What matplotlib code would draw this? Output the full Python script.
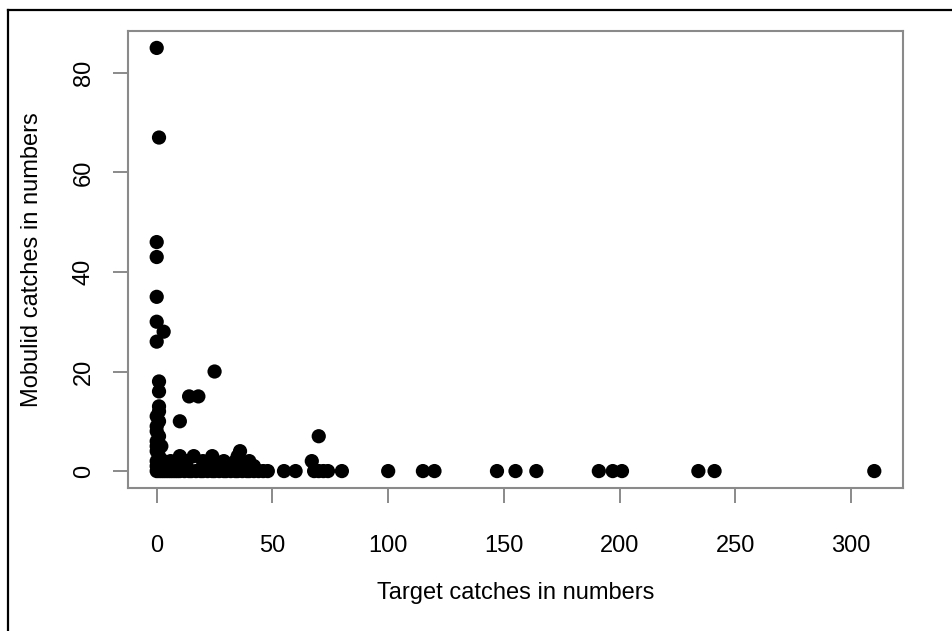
import matplotlib
matplotlib.use("Agg")
import matplotlib.pyplot as plt
from matplotlib.lines import Line2D

# Mobulid catches vs target catches
target_catches = [
    0, 1, 2, 3, 4, 5, 6, 7, 8, 9, 10, 12, 14, 15, 17, 19, 20, 22, 24, 25,
    27, 29, 30, 32, 34, 35, 37, 39, 40, 42, 44, 46, 48, 55, 60, 68, 70, 72,
    74, 80, 100, 115, 120, 147, 155, 164, 191, 197, 201, 234, 241, 310,
    0, 2, 5, 8, 12, 20, 25, 30, 38, 42,
    0, 3, 6, 13, 20, 25, 29, 34, 40, 67,
    1, 10, 16, 24, 35, 36, 0, 0, 2, 0, 1, 0, 0, 1, 0, 1, 1, 1, 1,
    10, 14, 18, 25, 0, 3, 0, 0, 0, 0, 1, 0, 70,
]
mobulid_catches = [
    0, 0, 0, 0, 0, 0, 0, 0, 0, 0, 0, 0, 0, 0, 0, 0, 0, 0, 0, 0,
    0, 0, 0, 0, 0, 0, 0, 0, 0, 0, 0, 0, 0, 0, 0, 0, 0, 0,
    0, 0, 0, 0, 0, 0, 0, 0, 0, 0, 0, 0, 0, 0,
    1, 1, 1, 1, 1, 1, 1, 1, 1, 1,
    2, 2, 2, 2, 2, 2, 2, 2, 2, 2,
    3, 3, 3, 3, 3, 4, 4, 5, 5, 6, 7, 8, 9, 10, 11, 12, 13, 16, 18,
    10, 15, 15, 20, 26, 28, 30, 35, 43, 46, 67, 85, 7,
]
x_ticks = [0, 50, 100, 150, 200, 250, 300]
y_ticks = [0, 20, 40, 60, 80]

plt.rcParams["font.family"] = ["Liberation Sans", "DejaVu Sans"]

fig = plt.figure(figsize=(9.52, 6.31), dpi=100)
ax = fig.add_axes([128 / 952, 143 / 631, 775 / 952, 457 / 631])

ax.scatter(target_catches, mobulid_catches, s=105, color="black",
           edgecolors="none", zorder=3)

# R-style 4% padding around the data range
ax.set_xlim(-12.4, 322.4)
ax.set_ylim(-3.4, 88.4)
ax.set_xticks(x_ticks)
ax.set_yticks(y_ticks)

for side in ax.spines.values():
    side.set_color("#8a8a8a")
    side.set_linewidth(1.5)

ax.tick_params(axis="both", direction="out", length=11, width=1.2,
               color="#777777", labelsize=17, labelcolor="black")
ax.tick_params(axis="x", pad=23)
ax.tick_params(axis="y", pad=13)
for lbl in ax.get_yticklabels():
    lbl.set_rotation(90)
    lbl.set_va("center")

ax.set_xlabel("Target catches in numbers", fontsize=17, labelpad=18)
ax.set_ylabel("Mobulid catches in numbers", fontsize=17, labelpad=21)

# outer frame (only top and left edges visible in the crop)
fig.add_artist(Line2D([8 / 952, 8 / 952], [0, 1 - 10 / 631],
                      transform=fig.transFigure, color="black", lw=1.6))
fig.add_artist(Line2D([8 / 952, 1], [1 - 10 / 631, 1 - 10 / 631],
                      transform=fig.transFigure, color="black", lw=1.6))

fig.savefig("out.png", dpi=100)
